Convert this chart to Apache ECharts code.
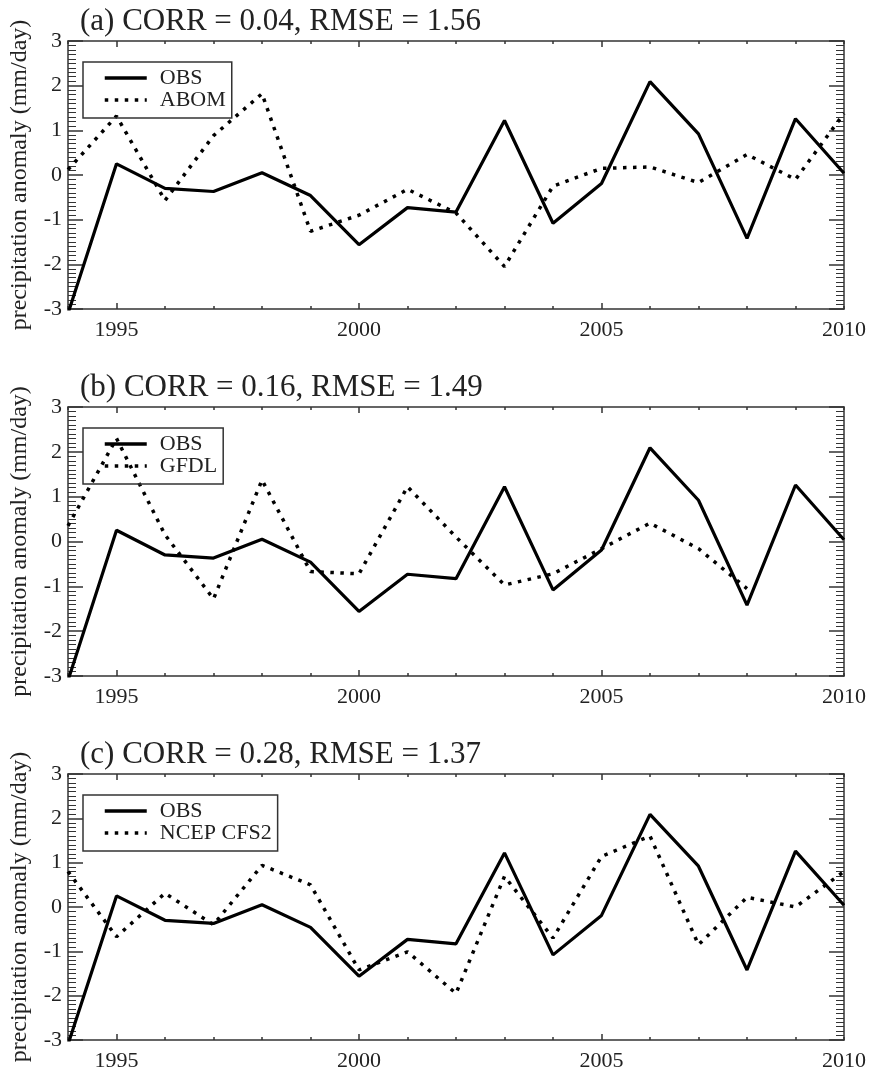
<!DOCTYPE html>
<html lang="en">
<head>
    <meta charset="UTF-8">
    <title>precipitation anomaly</title>
    <script src="https://cdn.jsdelivr.net/npm/echarts@6/dist/echarts.min.js"></script>
    <style>
        html, body { margin: 0; padding: 0; background: #fff; }
        #main { width: 869px; height: 1072px; }
    </style>
</head>
<body>
<div id="main"></div>
<script>
    // data
    const years = [1994, 1995, 1996, 1997, 1998, 1999, 2000, 2001, 2002, 2003, 2004, 2005, 2006, 2007, 2008, 2009, 2010];
    const obs = [-3.1, 0.25, -0.3, -0.37, 0.05, -0.46, -1.56, -0.73, -0.83, 1.22, -1.08, -0.19, 2.09, 0.92, -1.42, 1.26, 0.04];
    const abom = [0.12, 1.32, -0.57, 0.88, 1.82, -1.26, -0.9, -0.32, -0.85, -2.05, -0.25, 0.15, 0.18, -0.17, 0.46, -0.1, 1.38];
    const gfdl = [0.35, 2.3, 0.15, -1.28, 1.37, -0.67, -0.72, 1.22, 0.1, -0.97, -0.72, -0.16, 0.41, -0.16, -1.05, null, null];
    const cfs2 = [0.8, -0.67, 0.31, -0.4, 0.94, 0.5, -1.42, -1.01, -1.95, 0.69, -0.7, 1.14, 1.6, -0.85, 0.22, 0.0, 0.8];

    const titles = ['(a) CORR = 0.04, RMSE = 1.56', '(b) CORR = 0.16, RMSE = 1.49', '(c) CORR = 0.28, RMSE = 1.37'];
    const modelNames = ['ABOM', 'GFDL', 'NCEP CFS2'];
    const models = [abom, gfdl, cfs2];
    const yearLabels = [1995, 2000, 2005, 2010];
    const majorYears = [1995, 2000, 2005];
    const yTicks = [-3, -2, -1, 0, 1, 2, 3];

    const font = '"Liberation Serif", "Times New Roman", serif';
    const axisColor = '#333';
    const tops = [41, 407, 774];
    const heights = [268, 269, 268];

    function pairs(vals) {
        return years.map((y, i) => [y, vals[i]]);
    }

    let option = {
        backgroundColor: '#fff',
        animation: false,
        title: [], grid: [], xAxis: [], yAxis: [], legend: [], series: []
    };

    for (let i = 0; i < 3; i++) {
        option.title.push({
            text: titles[i], left: 80, top: tops[i] - 35, padding: 0,
            textStyle: {fontFamily: font, fontSize: 31, fontWeight: 'normal', color: '#222'}
        });
        option.grid.push({left: 68, right: 24, top: tops[i], height: heights[i]});

        const lineStyle = {color: axisColor, width: 1.5};
        const xBase = {
            gridIndex: i, type: 'value', min: 1994, max: 2010, interval: 1,
            splitLine: {show: false}
        };
        // bottom axis with labels, every-year small ticks
        option.xAxis.push(Object.assign({}, xBase, {
            position: 'bottom',
            axisLine: {show: true, onZero: false, lineStyle: lineStyle},
            axisTick: {inside: true, length: 3, lineStyle: lineStyle},
            axisLabel: {
                customValues: yearLabels, fontFamily: font, fontSize: 22, color: '#222', margin: 10,
                formatter: v => String(v)
            }
        }));
        // top axis
        option.xAxis.push(Object.assign({}, xBase, {
            position: 'top',
            axisLine: {show: true, onZero: false, lineStyle: lineStyle},
            axisTick: {inside: true, length: 3, lineStyle: lineStyle},
            axisLabel: {show: false}
        }));
        // longer ticks every 5 years
        ['bottom', 'top'].forEach(pos => {
            option.xAxis.push(Object.assign({}, xBase, {
                position: pos,
                axisLine: {show: false, onZero: false},
                axisTick: {inside: true, length: 6, customValues: majorYears, lineStyle: lineStyle},
                axisLabel: {show: false}
            }));
        });

        const yBase = {
            gridIndex: i, type: 'value', min: -3, max: 3, interval: 1,
            axisLine: {show: true, onZero: false, lineStyle: lineStyle},
            axisTick: {inside: true, length: 15, lineStyle: lineStyle},
            minorTick: {show: true, splitNumber: 10, length: 8, lineStyle: {color: axisColor, width: 1}},
            splitLine: {show: false},
            minorSplitLine: {show: false}
        };
        option.yAxis.push(Object.assign({}, yBase, {
            position: 'left',
            name: 'precipitation anomaly (mm/day)',
            nameLocation: 'middle', nameGap: 36,
            nameTextStyle: {fontFamily: font, fontSize: 24, color: '#222'},
            axisLabel: {customValues: yTicks, fontFamily: font, fontSize: 22, color: '#222', margin: 6}
        }));
        option.yAxis.push(Object.assign({}, yBase, {
            position: 'right',
            axisLabel: {show: false}
        }));

        option.legend.push({
            left: 83, top: tops[i] + 21, orient: 'vertical',
            data: ['OBS', modelNames[i]],
            itemWidth: 42, itemHeight: 10, itemGap: 0,
            padding: [5, 6, 7, 20],
            borderColor: axisColor, borderWidth: 1.5,
            itemStyle: {opacity: 0},
            lineStyle: {width: 3.5},
            textStyle: {fontFamily: font, fontSize: 22, lineHeight: 22, color: '#222', padding: [0, 0, 0, 8]}
        });

        option.series.push({
            name: 'OBS', type: 'line', xAxisIndex: i * 4, yAxisIndex: i * 2,
            data: pairs(obs), symbol: 'none', clip: true,
            itemStyle: {color: '#000'},
            lineStyle: {color: '#000', width: 3.2}
        });
        option.series.push({
            name: modelNames[i], type: 'line', xAxisIndex: i * 4, yAxisIndex: i * 2,
            data: pairs(models[i]), symbol: 'none', clip: true, connectNulls: false,
            itemStyle: {color: '#000'},
            lineStyle: {color: '#000', width: 3.5, type: [3.5, 6.5], cap: 'butt'}
        });
    }

    let myChart = echarts.init(document.getElementById('main'));
    myChart.setOption(option);
</script>
</body>
</html>
